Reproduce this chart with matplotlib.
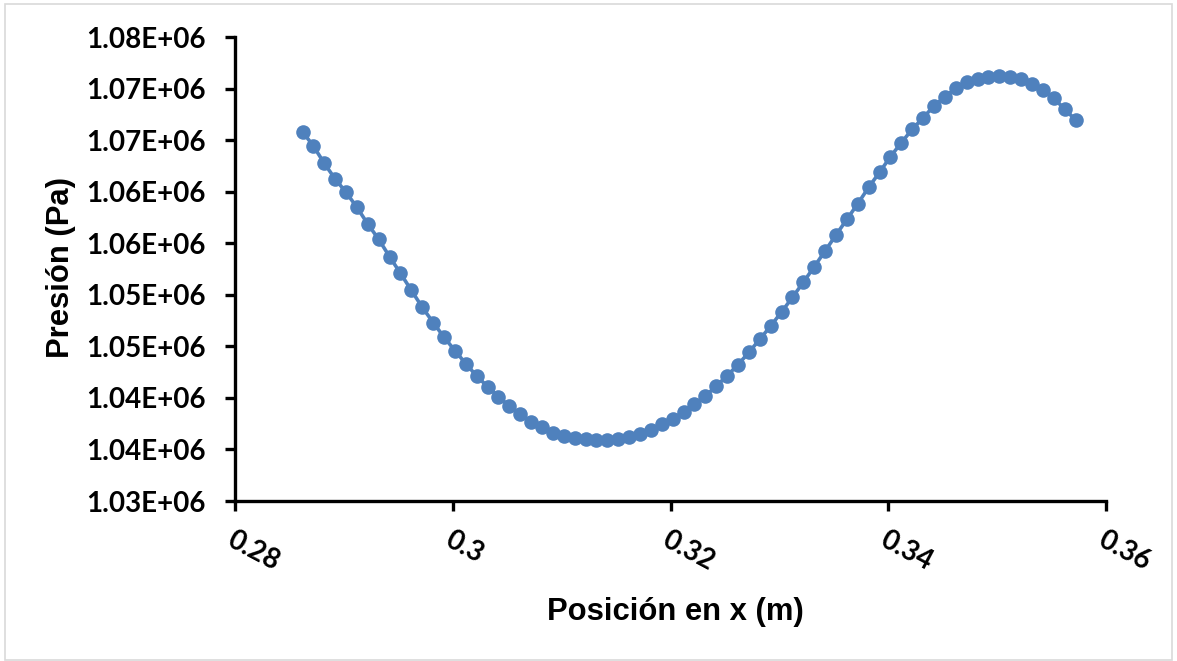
import matplotlib
matplotlib.use("Agg")
import matplotlib.pyplot as plt
from matplotlib.patches import Rectangle
from matplotlib.ticker import FixedLocator, FuncFormatter
from matplotlib.font_manager import FontProperties
from decimal import Decimal, ROUND_HALF_UP

# Pressure along the x position (m), sampled every 1 mm
posicion_x = [
    0.2862, 0.2872, 0.2882, 0.2892, 0.2902, 0.2912, 0.2922, 0.2932, 0.2942, 0.2952,
    0.2962, 0.2972, 0.2982, 0.2992, 0.3002, 0.3012, 0.3022, 0.3032, 0.3042, 0.3052,
    0.3062, 0.3072, 0.3082, 0.3092, 0.3102, 0.3112, 0.3122, 0.3132, 0.3142, 0.3152,
    0.3162, 0.3172, 0.3182, 0.3192, 0.3202, 0.3212, 0.3222, 0.3232, 0.3242, 0.3252,
    0.3262, 0.3272, 0.3282, 0.3292, 0.3302, 0.3312, 0.3322, 0.3332, 0.3342, 0.3352,
    0.3362, 0.3372, 0.3382, 0.3392, 0.3402, 0.3412, 0.3422, 0.3432, 0.3442, 0.3452,
    0.3462, 0.3472, 0.3482, 0.3492, 0.3502, 0.3512, 0.3522, 0.3532, 0.3542, 0.3552,
    0.3562, 0.3572,
]
presion_pa = [
    1065815, 1064430, 1062750, 1061230, 1059940, 1058480, 1056860, 1055380, 1053690, 1052080,
    1050430, 1048790, 1047310, 1045890, 1044580, 1043320, 1042120, 1041090, 1040120, 1039210,
    1038440, 1037690, 1037150, 1036620, 1036300, 1036080, 1035980, 1035920, 1035920, 1036040,
    1036210, 1036500, 1036890, 1037420, 1037980, 1038630, 1039410, 1040180, 1041150, 1042150,
    1043220, 1044420, 1045680, 1046970, 1048330, 1049750, 1051210, 1052720, 1054250, 1055800,
    1057320, 1058830, 1060420, 1061880, 1063390, 1064750, 1066050, 1067170, 1068310, 1069210,
    1070020, 1070610, 1070930, 1071150, 1071220, 1071150, 1070900, 1070410, 1069860, 1069050,
    1068020, 1066950,
]

x_ticks = [0.28, 0.30, 0.32, 0.34, 0.36]
x_tick_labels = ["0.28", "0.3", "0.32", "0.34", "0.36"]
y_ticks = [1030000, 1035000, 1040000, 1045000, 1050000,
           1055000, 1060000, 1065000, 1070000, 1075000]

x_title = "Posición en x (m)"
y_title = "Presión (Pa)"


def sci_label(v, pos=None):
    """Scientific label with two decimals, rounding halves upward."""
    d = Decimal(int(round(v)))
    exp = d.adjusted()
    mant = (d / (Decimal(10) ** exp)).quantize(Decimal("0.01"), rounding=ROUND_HALF_UP)
    return f"{mant}E+{exp:02d}"


W, H = 1177, 661
fig = plt.figure(figsize=(W / 100, H / 100), dpi=100)
fig.patch.set_facecolor("white")

# chart-area frame
fig.add_artist(Rectangle((5 / W, 1 - 660 / H), (1172 - 5) / W, (660 - 4) / H,
                         transform=fig.transFigure, fill=False,
                         edgecolor="#D9D9D9", linewidth=1.2))

ax = fig.add_axes([235 / W, 1 - 501 / H, (1106 - 235) / W, (501 - 37) / H])

blue = "#4F81BD"
ax.plot(posicion_x, presion_pa, color=blue, linewidth=2.6,
        marker="o", markersize=10.5, markerfacecolor=blue,
        markeredgewidth=0, solid_capstyle="round")

ax.set_xlim(0.28, 0.36)
ax.set_ylim(1030000, 1075000)

ax.xaxis.set_major_locator(FixedLocator(x_ticks))
ax.set_xticklabels(x_tick_labels)
ax.yaxis.set_major_locator(FixedLocator(y_ticks))
ax.yaxis.set_major_formatter(FuncFormatter(sci_label))

for side in ("top", "right"):
    ax.spines[side].set_visible(False)
for side in ("left", "bottom"):
    ax.spines[side].set_linewidth(2.4)
    ax.spines[side].set_color("black")

ax.tick_params(axis="both", direction="out", length=7, width=2.4, color="black")
ax.tick_params(axis="y", pad=14)
ax.tick_params(axis="x", pad=11)

tick_font = FontProperties(family="Lato", weight="bold", size=20)
fig.canvas.draw()
for lab in ax.get_yticklabels():
    lab.set_fontproperties(tick_font)
for lab in ax.get_xticklabels():
    lab.set_fontproperties(tick_font)
    lab.set_rotation(-28)
    lab.set_rotation_mode("anchor")
    lab.set_ha("left")
    lab.set_va("top")

title_font = dict(family="Liberation Sans", weight="bold", size=22.3)
fig.text(675 / W, 1 - 612 / H, x_title, ha="center", va="center", **title_font)
fig.text(61 / W, 1 - 268 / H, y_title, ha="center", va="center",
         rotation=90, **title_font)

fig.savefig("out.png", dpi=100, facecolor="white")
